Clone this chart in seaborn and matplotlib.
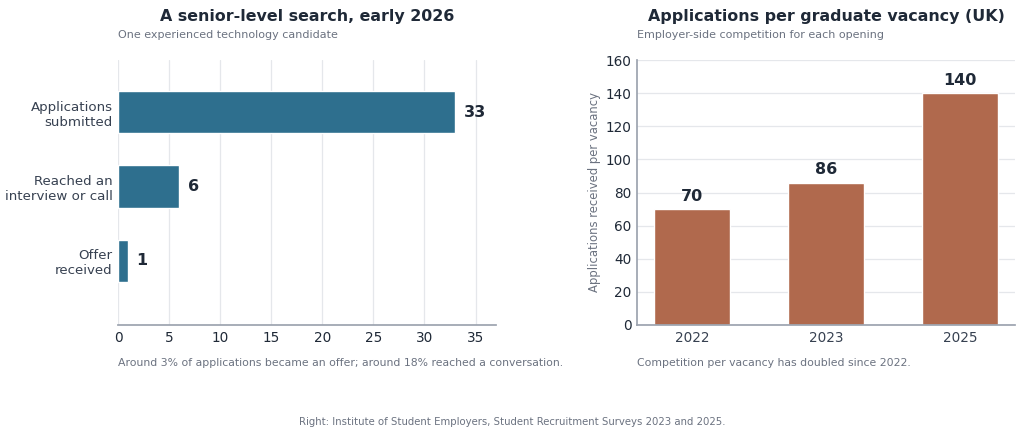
import matplotlib
matplotlib.use("Agg")
import matplotlib.pyplot as plt
import seaborn as sns
import pandas as pd

stages = ["Applications\nsubmitted", "Reached an\ninterview or call", "Offer\nreceived"]
stage_counts = [33, 6, 1]
years = ["2022", "2023", "2025"]
apps_per_vacancy = [70, 86, 140]

sns.set_theme(style="white")
plt.rcParams['font.family'] = ['DejaVu Sans']

DARK = "#1f2937"
GRAY = "#6b7280"
BLUE = "#2e6f8e"
RUST = "#b0694d"

fig = plt.figure(figsize=(10.24, 4.37), dpi=100)
ax1 = fig.add_axes([118/1024, 1-325/437, 378/1024, 265/437])
ax2 = fig.add_axes([637/1024, 1-325/437, 378/1024, 265/437])

df1 = pd.DataFrame({"stage": stages, "count": stage_counts})
sns.barplot(data=df1, y="stage", x="count", orient="h", color=BLUE, width=0.57,
            saturation=1, ax=ax1)
ax1.set_xlim(0, 37)
ax1.set_ylim(2.86, -0.70)
ax1.set_xticks(range(0, 36, 5))
ax1.grid(axis="x", color="#e5e7eb", linewidth=0.9)
ax1.set_axisbelow(True)
for s in ["top", "right", "left"]:
    ax1.spines[s].set_visible(False)
ax1.spines["bottom"].set_color("#9ca3af")
ax1.set_xlabel("")
ax1.set_ylabel("")
ax1.tick_params(axis="x", labelsize=9.8, colors=DARK, length=0, pad=4)
ax1.tick_params(axis="y", labelsize=9.6, colors="#374151", length=0, pad=4)
for i, v in enumerate(stage_counts):
    ax1.annotate(str(v), (v, i), xytext=(6, 0), textcoords="offset points",
                 va="center", ha="left", fontsize=11.5, fontweight="bold", color=DARK)
ax1.text(0.5, 1 + (60-17)/265, "A senior-level search, early 2026", transform=ax1.transAxes,
         ha="center", va="center", fontsize=11.4, fontweight="bold", color=DARK)
ax1.text(0, 1 + (60-35)/265, "One experienced technology candidate", transform=ax1.transAxes,
         ha="left", va="center", fontsize=8, color=GRAY)
ax1.text(0, -(363-325)/265, "Around 3% of applications became an offer; around 18% reached a conversation.",
         transform=ax1.transAxes, ha="left", va="center", fontsize=7.8, color=GRAY)

df2 = pd.DataFrame({"year": years, "apps": apps_per_vacancy})
sns.barplot(data=df2, x="year", y="apps", color=RUST, width=0.565, saturation=1, ax=ax2)
ax2.set_xlim(-0.41, 2.41)
ax2.set_ylim(0, 160)
ax2.set_yticks(range(0, 161, 20))
ax2.grid(axis="y", color="#e5e7eb", linewidth=0.9)
ax2.set_axisbelow(True)
for s in ["top", "right"]:
    ax2.spines[s].set_visible(False)
ax2.spines["bottom"].set_color("#9ca3af")
ax2.spines["left"].set_color("#9ca3af")
ax2.set_xlabel("")
ax2.set_ylabel("Applications received per vacancy", fontsize=8.4, color=GRAY, labelpad=3)
ax2.tick_params(axis="x", labelsize=9.8, colors="#374151", length=0, pad=4)
ax2.tick_params(axis="y", labelsize=9.8, colors=DARK, length=0, pad=4)
for i, v in enumerate(apps_per_vacancy):
    ax2.annotate(str(v), (i, v), xytext=(0, 4), textcoords="offset points",
                 va="bottom", ha="center", fontsize=11.5, fontweight="bold", color=DARK)
ax2.text(0.5, 1 + (60-17)/265, "Applications per graduate vacancy (UK)", transform=ax2.transAxes,
         ha="center", va="center", fontsize=11.4, fontweight="bold", color=DARK)
ax2.text(0, 1 + (60-35)/265, "Employer-side competition for each opening", transform=ax2.transAxes,
         ha="left", va="center", fontsize=8, color=GRAY)
ax2.text(0, -(363-325)/265, "Competition per vacancy has doubled since 2022.",
         transform=ax2.transAxes, ha="left", va="center", fontsize=7.8, color=GRAY)

fig.text(512/1024, 1-422/437, "Right: Institute of Student Employers, Student Recruitment Surveys 2023 and 2025.",
         ha="center", va="center", fontsize=7.3, color=GRAY)

fig.savefig("out.png", dpi=100)
